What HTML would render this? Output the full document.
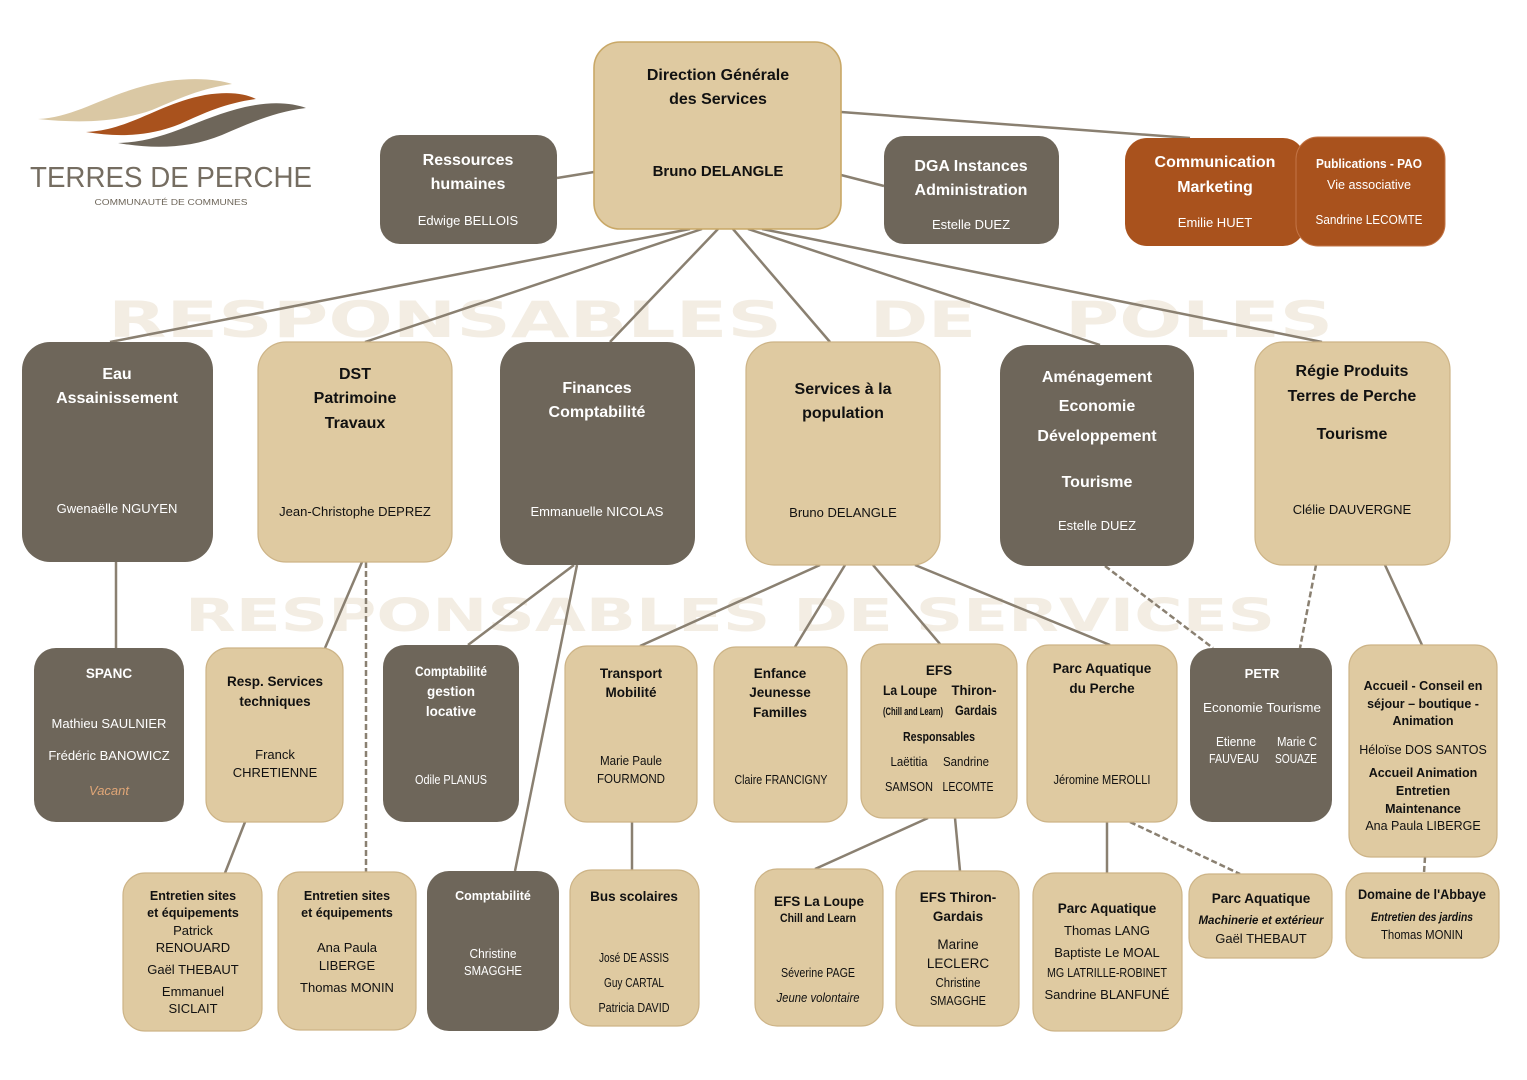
<!DOCTYPE html>
<html><head><meta charset="utf-8"><style>
html,body{margin:0;padding:0;background:#fff;}
svg{display:block;}
text{font-family:"Liberation Sans",sans-serif;text-anchor:middle;}
.h{font-weight:bold;font-size:16px;}
.hs{font-weight:bold;font-size:13.5px;}
.n{font-size:13px;}
.ns{font-size:12px;}
.d{fill:#111;}
.w{fill:#fff;}
.bg{fill:#dfcaa1;stroke:#cdb487;stroke-width:1.2;}
.dk{fill:#6e665a;}
.or{fill:#a9521d;}
.ln{stroke:#8a8071;stroke-width:2.5;fill:none;}
.dl{stroke:#8a8071;stroke-width:2.5;fill:none;stroke-dasharray:6 3;}
.wm{font-family:"DejaVu Sans","Liberation Sans",sans-serif;font-weight:bold;fill:#f3ede3;}
</style></head><body>
<svg width="1527" height="1080" viewBox="0 0 1527 1080" xmlns="http://www.w3.org/2000/svg">
<!-- watermarks -->
<text class="wm" x="108" y="337" font-size="50" textLength="674" lengthAdjust="spacingAndGlyphs" style="text-anchor:start">RESPONSABLES</text>
<text class="wm" x="870" y="337" font-size="50" textLength="106" lengthAdjust="spacingAndGlyphs" style="text-anchor:start">DE</text>
<text class="wm" x="1065" y="337" font-size="50" textLength="268" lengthAdjust="spacingAndGlyphs" style="text-anchor:start">POLES</text>
<text class="wm" x="185" y="631" font-size="45" textLength="1090" lengthAdjust="spacingAndGlyphs" style="text-anchor:start">RESPONSABLES DE SERVICES</text>

<!-- logo -->
<path d="M38,119 C80,117 110,90 168,81 C198,77 220,80 232,84 C202,88 178,99 152,110 C116,123 76,123 38,119 Z" fill="#dac8a4"/>
<path d="M86,132 C130,130 158,104 205,95 C230,91 246,94 256,99 C226,103 204,113 180,124 C148,137 116,137 86,132 Z" fill="#a9521d"/>
<path d="M118,143 C165,142 198,118 245,107 C272,101 292,103 306,108 C274,112 250,123 222,135 C188,149 152,149 118,143 Z" fill="#6e665a"/>
<text x="171" y="187" font-size="29" fill="#756d61" textLength="282" lengthAdjust="spacingAndGlyphs" style="font-weight:normal">TERRES DE PERCHE</text>
<text x="171" y="205" font-size="8.5" fill="#6e665a" textLength="153" lengthAdjust="spacingAndGlyphs">COMMUNAUTÉ DE COMMUNES</text>

<!-- connectors -->
<line class="ln" x1="557" y1="178" x2="594" y2="172"/>
<line class="ln" x1="841" y1="175" x2="884" y2="186"/>
<line class="ln" x1="841" y1="112" x2="1190" y2="138"/>
<line class="ln" x1="690" y1="229" x2="110" y2="342"/>
<line class="ln" x1="702" y1="229" x2="365" y2="342"/>
<line class="ln" x1="718" y1="229" x2="610" y2="342"/>
<line class="ln" x1="733" y1="229" x2="830" y2="342"/>
<line class="ln" x1="748" y1="229" x2="1100" y2="345"/>
<line class="ln" x1="762" y1="229" x2="1322" y2="342"/>

<line class="ln" x1="116" y1="562" x2="116" y2="648"/>
<line class="ln" x1="362" y1="562" x2="325" y2="648"/>
<line class="dl" x1="366" y1="562" x2="366" y2="872"/>
<line class="ln" x1="574" y1="565" x2="468" y2="645"/>
<line class="ln" x1="577" y1="565" x2="515" y2="871"/>
<line class="ln" x1="820" y1="565" x2="640" y2="646"/>
<line class="ln" x1="845" y1="565" x2="795" y2="647"/>
<line class="ln" x1="873" y1="565" x2="940" y2="644"/>
<line class="ln" x1="915" y1="565" x2="1110" y2="645"/>
<line class="dl" x1="1105" y1="566" x2="1213" y2="648"/>
<line class="dl" x1="1316" y1="565" x2="1300" y2="648"/>
<line class="ln" x1="1385" y1="565" x2="1422" y2="645"/>

<line class="ln" x1="245" y1="822" x2="225" y2="873"/>
<line class="ln" x1="632" y1="822" x2="632" y2="870"/>
<line class="ln" x1="928" y1="818" x2="815" y2="869"/>
<line class="ln" x1="955" y1="818" x2="960" y2="871"/>
<line class="ln" x1="1107" y1="822" x2="1107" y2="873"/>
<line class="dl" x1="1130" y1="822" x2="1240" y2="874"/>
<line class="dl" x1="1425" y1="857" x2="1424" y2="873"/>

<!-- top boxes -->
<rect x="594" y="42" width="247" height="187" rx="26" fill="#dfcaa1" stroke="#c9a867" stroke-width="1.6"/>
<text class="h d" x="718" y="80">Direction Générale</text>
<text class="h d" x="718" y="104">des Services</text>
<text class="h d" x="718" y="176" style="font-size:15px">Bruno DELANGLE</text>

<rect class="dk" x="380" y="135" width="177" height="109" rx="20"/>
<text class="h w" x="468" y="165">Ressources</text>
<text class="h w" x="468" y="189">humaines</text>
<text class="n w" x="468" y="225">Edwige BELLOIS</text>

<rect class="dk" x="884" y="136" width="175" height="108" rx="20"/>
<text class="h w" x="971" y="171">DGA Instances</text>
<text class="h w" x="971" y="195">Administration</text>
<text class="n w" x="971" y="229">Estelle DUEZ</text>

<rect class="or" x="1125" y="138" width="180" height="108" rx="22"/>
<text class="h w" x="1215" y="167">Communication</text>
<text class="h w" x="1215" y="192">Marketing</text>
<text class="n w" x="1215" y="227">Emilie HUET</text>

<rect class="or" x="1296" y="137" width="149" height="109" rx="22" stroke="#c27446" stroke-width="1"/>
<text class="w" x="1369" y="168" font-size="13" font-weight="bold" textLength="106" lengthAdjust="spacingAndGlyphs">Publications - PAO</text>
<text class="w" x="1369" y="189" font-size="13" textLength="84" lengthAdjust="spacingAndGlyphs">Vie associative</text>
<text class="w" x="1369" y="224" font-size="13" textLength="107" lengthAdjust="spacingAndGlyphs">Sandrine LECOMTE</text>

<!-- poles -->
<rect class="dk" x="22" y="342" width="191" height="220" rx="28"/>
<text class="h w" x="117" y="379">Eau</text>
<text class="h w" x="117" y="403">Assainissement</text>
<text class="n w" x="117" y="513">Gwenaëlle NGUYEN</text>

<rect class="bg" x="258" y="342" width="194" height="220" rx="28"/>
<text class="h d" x="355" y="379">DST</text>
<text class="h d" x="355" y="403">Patrimoine</text>
<text class="h d" x="355" y="428">Travaux</text>
<text class="n d" x="355" y="516">Jean-Christophe DEPREZ</text>

<rect class="dk" x="500" y="342" width="195" height="223" rx="28"/>
<text class="h w" x="597" y="393">Finances</text>
<text class="h w" x="597" y="417">Comptabilité</text>
<text class="n w" x="597" y="516">Emmanuelle NICOLAS</text>

<rect class="bg" x="746" y="342" width="194" height="223" rx="28"/>
<text class="h d" x="843" y="394">Services à la</text>
<text class="h d" x="843" y="418">population</text>
<text class="n d" x="843" y="517">Bruno DELANGLE</text>

<rect class="dk" x="1000" y="345" width="194" height="221" rx="28"/>
<text class="h w" x="1097" y="382">Aménagement</text>
<text class="h w" x="1097" y="411">Economie</text>
<text class="h w" x="1097" y="441">Développement</text>
<text class="h w" x="1097" y="487">Tourisme</text>
<text class="n w" x="1097" y="530">Estelle DUEZ</text>

<rect class="bg" x="1255" y="342" width="195" height="223" rx="28"/>
<text class="h d" x="1352" y="376">Régie Produits</text>
<text class="h d" x="1352" y="401">Terres de Perche</text>
<text class="h d" x="1352" y="439">Tourisme</text>
<text class="n d" x="1352" y="514">Clélie DAUVERGNE</text>

<!-- services -->
<rect class="dk" x="34" y="648" width="150" height="174" rx="22"/>
<text class="hs w" x="109" y="678">SPANC</text>
<text class="n w" x="109" y="728">Mathieu SAULNIER</text>
<text class="n w" x="109" y="760">Frédéric BANOWICZ</text>
<text class="n" x="109" y="795" fill="#e0a677" font-style="italic">Vacant</text>

<rect class="bg" x="206" y="648" width="137" height="174" rx="22"/>
<text class="hs d" x="275" y="686">Resp. Services</text>
<text class="hs d" x="275" y="706">techniques</text>
<text class="n d" x="275" y="759">Franck</text>
<text class="n d" x="275" y="777">CHRETIENNE</text>

<rect class="dk" x="383" y="645" width="136" height="177" rx="22"/>
<text class="w" x="451" y="676" font-size="13.5" font-weight="bold" textLength="72" lengthAdjust="spacingAndGlyphs">Comptabilité</text>
<text class="hs w" x="451" y="696">gestion</text>
<text class="hs w" x="451" y="716">locative</text>
<text class="w" x="451" y="784" font-size="12.5" textLength="72" lengthAdjust="spacingAndGlyphs">Odile PLANUS</text>

<rect class="bg" x="565" y="646" width="132" height="176" rx="22"/>
<text class="hs d" x="631" y="678">Transport</text>
<text class="hs d" x="631" y="697">Mobilité</text>
<text class="d" x="631" y="765" font-size="12.5" textLength="62" lengthAdjust="spacingAndGlyphs">Marie Paule</text>
<text class="d" x="631" y="783" font-size="12.5" textLength="68" lengthAdjust="spacingAndGlyphs">FOURMOND</text>

<rect class="bg" x="714" y="647" width="133" height="175" rx="22"/>
<text class="hs d" x="780" y="678">Enfance</text>
<text class="hs d" x="780" y="697">Jeunesse</text>
<text class="hs d" x="780" y="717">Familles</text>
<text class="d" x="781" y="784" font-size="12.5" textLength="93" lengthAdjust="spacingAndGlyphs">Claire FRANCIGNY</text>

<rect class="bg" x="861" y="644" width="156" height="174" rx="22"/>
<text class="hs d" x="939" y="675">EFS</text>
<text class="d" x="910" y="695" font-size="13.5" font-weight="bold" textLength="54" lengthAdjust="spacingAndGlyphs">La Loupe</text>
<text class="d" x="974" y="695" font-size="13.5" font-weight="bold" textLength="45" lengthAdjust="spacingAndGlyphs">Thiron-</text>
<text class="d" x="913" y="715" font-size="11" font-weight="bold" textLength="60" lengthAdjust="spacingAndGlyphs">(Chill and Learn)</text>
<text class="d" x="976" y="715" font-size="13.5" font-weight="bold" textLength="42" lengthAdjust="spacingAndGlyphs">Gardais</text>
<text class="d" x="939" y="741" font-size="12.5" font-weight="bold" textLength="72" lengthAdjust="spacingAndGlyphs">Responsables</text>
<text class="d" x="909" y="766" font-size="12.5" textLength="37" lengthAdjust="spacingAndGlyphs">Laëtitia</text>
<text class="d" x="966" y="766" font-size="12.5" textLength="46" lengthAdjust="spacingAndGlyphs">Sandrine</text>
<text class="d" x="909" y="791" font-size="12.5" textLength="48" lengthAdjust="spacingAndGlyphs">SAMSON</text>
<text class="d" x="968" y="791" font-size="12.5" textLength="51" lengthAdjust="spacingAndGlyphs">LECOMTE</text>

<rect class="bg" x="1027" y="645" width="150" height="177" rx="22"/>
<text class="hs d" x="1102" y="673">Parc Aquatique</text>
<text class="hs d" x="1102" y="693">du Perche</text>
<text class="d" x="1102" y="784" font-size="12.5" textLength="97" lengthAdjust="spacingAndGlyphs">Jéromine MEROLLI</text>

<rect class="dk" x="1190" y="648" width="142" height="174" rx="22"/>
<text class="w" x="1262" y="678" font-size="13" font-weight="bold">PETR</text>
<text class="w" x="1262" y="712" font-size="13" textLength="118" lengthAdjust="spacingAndGlyphs">Economie Tourisme</text>
<text class="w" x="1236" y="746" font-size="12.5" textLength="40" lengthAdjust="spacingAndGlyphs">Etienne</text>
<text class="w" x="1297" y="746" font-size="12.5" textLength="40" lengthAdjust="spacingAndGlyphs">Marie C</text>
<text class="w" x="1234" y="763" font-size="12.5" textLength="50" lengthAdjust="spacingAndGlyphs">FAUVEAU</text>
<text class="w" x="1296" y="763" font-size="12.5" textLength="42" lengthAdjust="spacingAndGlyphs">SOUAZE</text>

<rect class="bg" x="1349" y="645" width="148" height="212" rx="22"/>
<text class="d" x="1423" y="690" font-size="12.5" font-weight="bold">Accueil - Conseil en</text>
<text class="d" x="1423" y="708" font-size="12.5" font-weight="bold">séjour – boutique -</text>
<text class="d" x="1423" y="725" font-size="12.5" font-weight="bold">Animation</text>
<text class="d" x="1423" y="754" font-size="12.5">Héloïse DOS SANTOS</text>
<text class="d" x="1423" y="777" font-size="12.5" font-weight="bold">Accueil Animation</text>
<text class="d" x="1423" y="795" font-size="12.5" font-weight="bold">Entretien</text>
<text class="d" x="1423" y="813" font-size="12.5" font-weight="bold">Maintenance</text>
<text class="d" x="1423" y="830" font-size="12.5">Ana Paula LIBERGE</text>

<!-- bottom -->
<rect class="bg" x="123" y="873" width="139" height="158" rx="22"/>
<text class="d" x="193" y="900" font-size="12.5" font-weight="bold">Entretien sites</text>
<text class="d" x="193" y="917" font-size="12.5" font-weight="bold">et équipements</text>
<text class="n d" x="193" y="935">Patrick</text>
<text class="n d" x="193" y="952">RENOUARD</text>
<text class="n d" x="193" y="974">Gaël THEBAUT</text>
<text class="n d" x="193" y="996">Emmanuel</text>
<text class="n d" x="193" y="1013">SICLAIT</text>

<rect class="bg" x="278" y="872" width="138" height="158" rx="22"/>
<text class="d" x="347" y="900" font-size="12.5" font-weight="bold">Entretien sites</text>
<text class="d" x="347" y="917" font-size="12.5" font-weight="bold">et équipements</text>
<text class="n d" x="347" y="952">Ana Paula</text>
<text class="n d" x="347" y="970">LIBERGE</text>
<text class="n d" x="347" y="992">Thomas MONIN</text>

<rect class="dk" x="427" y="871" width="132" height="160" rx="22"/>
<text class="w" x="493" y="900" font-size="12.5" font-weight="bold">Comptabilité</text>
<text class="w" x="493" y="958" font-size="12.5" textLength="47" lengthAdjust="spacingAndGlyphs">Christine</text>
<text class="w" x="493" y="975" font-size="12.5" textLength="58" lengthAdjust="spacingAndGlyphs">SMAGGHE</text>

<rect class="bg" x="570" y="870" width="129" height="156" rx="22"/>
<text class="hs d" x="634" y="901">Bus scolaires</text>
<text class="d" x="634" y="962" font-size="12.5" textLength="70" lengthAdjust="spacingAndGlyphs">José DE ASSIS</text>
<text class="d" x="634" y="987" font-size="12.5" textLength="60" lengthAdjust="spacingAndGlyphs">Guy CARTAL</text>
<text class="d" x="634" y="1012" font-size="12.5" textLength="71" lengthAdjust="spacingAndGlyphs">Patricia DAVID</text>

<rect class="bg" x="755" y="869" width="128" height="157" rx="22"/>
<text class="hs d" x="819" y="906">EFS La Loupe</text>
<text class="d" x="818" y="922" font-size="11.5" font-weight="bold" textLength="76" lengthAdjust="spacingAndGlyphs">Chill and Learn</text>
<text class="d" x="818" y="977" font-size="12.5" textLength="74" lengthAdjust="spacingAndGlyphs">Séverine PAGE</text>
<text class="d" x="818" y="1002" font-size="12.5" font-style="italic" textLength="83" lengthAdjust="spacingAndGlyphs">Jeune volontaire</text>

<rect class="bg" x="896" y="871" width="123" height="155" rx="22"/>
<text class="hs d" x="958" y="902">EFS Thiron-</text>
<text class="hs d" x="958" y="921">Gardais</text>
<text class="d" x="958" y="949" font-size="13.5">Marine</text>
<text class="d" x="958" y="968" font-size="13.5">LECLERC</text>
<text class="d" x="958" y="987" font-size="12.5" textLength="45" lengthAdjust="spacingAndGlyphs">Christine</text>
<text class="d" x="958" y="1005" font-size="12.5" textLength="56" lengthAdjust="spacingAndGlyphs">SMAGGHE</text>

<rect class="bg" x="1033" y="873" width="149" height="158" rx="22"/>
<text class="hs d" x="1107" y="913">Parc Aquatique</text>
<text class="n d" x="1107" y="935">Thomas  LANG</text>
<text class="n d" x="1107" y="957">Baptiste Le MOAL</text>
<text class="d" x="1107" y="977" font-size="12.5" textLength="120" lengthAdjust="spacingAndGlyphs">MG LATRILLE-ROBINET</text>
<text class="n d" x="1107" y="999">Sandrine BLANFUNÉ</text>

<rect class="bg" x="1189" y="874" width="143" height="84" rx="20"/>
<text class="hs d" x="1261" y="903">Parc Aquatique</text>
<text class="d" x="1261" y="924" font-size="12" font-style="italic" font-weight="bold" textLength="125" lengthAdjust="spacingAndGlyphs">Machinerie et extérieur</text>
<text class="n d" x="1261" y="943">Gaël THEBAUT</text>

<rect class="bg" x="1346" y="873" width="153" height="85" rx="20"/>
<text class="d" x="1422" y="899" font-size="13.5" font-weight="bold" textLength="128" lengthAdjust="spacingAndGlyphs">Domaine de l'Abbaye</text>
<text class="d" x="1422" y="921" font-size="12" font-style="italic" font-weight="bold" textLength="102" lengthAdjust="spacingAndGlyphs">Entretien des jardins</text>
<text class="d" x="1422" y="939" font-size="12.5" textLength="82" lengthAdjust="spacingAndGlyphs">Thomas MONIN</text>
</svg>
</body></html>
